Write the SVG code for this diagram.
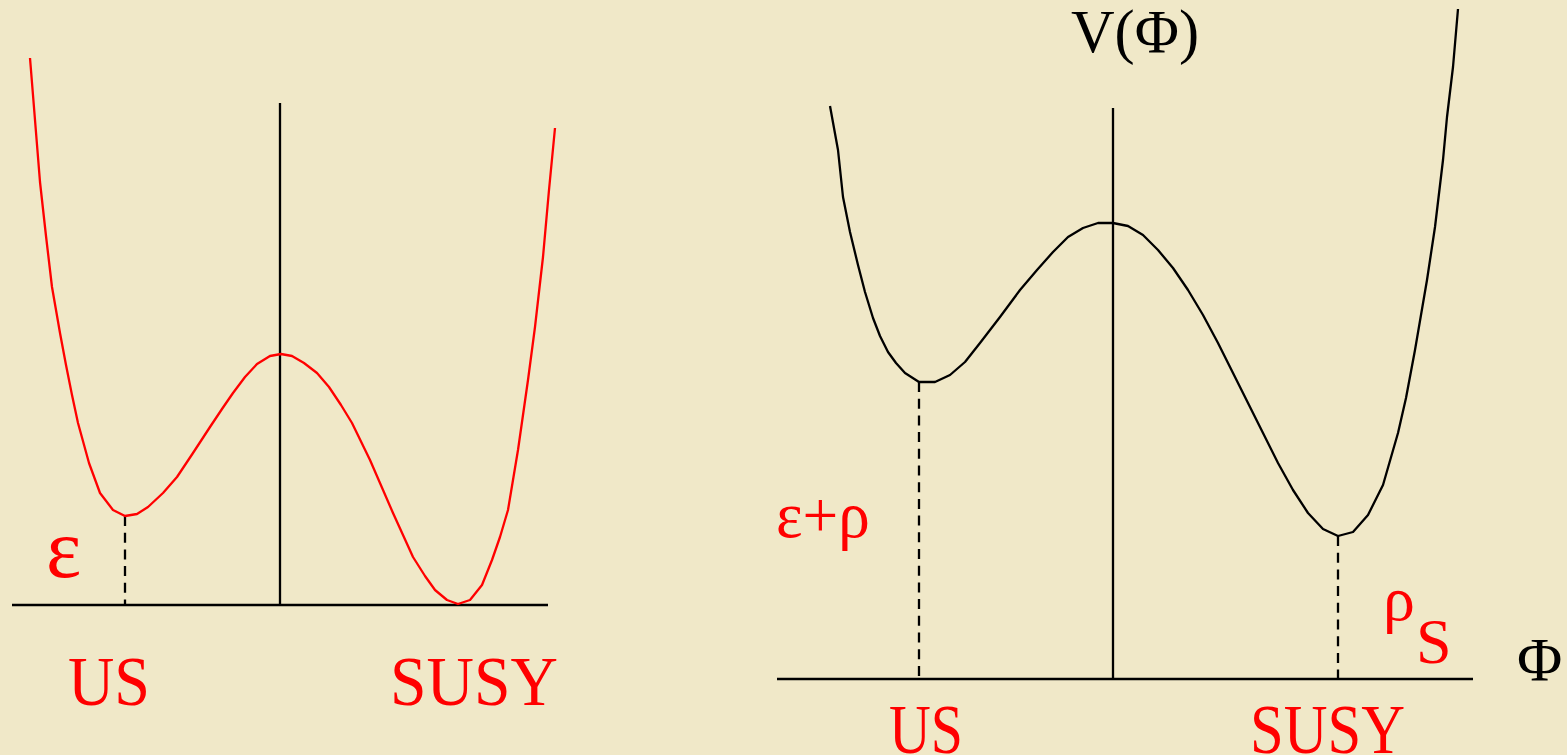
<svg xmlns="http://www.w3.org/2000/svg" width="1567" height="755" viewBox="0 0 1567 755">
<style>
.ax{stroke:#000;stroke-width:2.3;fill:none}
.dash{stroke:#000;stroke-width:2.3;fill:none;stroke-dasharray:10 6.7}
.red{stroke:#FF0000;stroke-width:2.3;fill:none;stroke-linejoin:round}
.blk{stroke:#000;stroke-width:2.3;fill:none;stroke-linejoin:round}
.lr{font-family:"Liberation Serif","Times New Roman",serif;fill:#FF0000}
.lb{font-family:"Liberation Serif","Times New Roman",serif;fill:#000}
</style>
<rect width="1567" height="755" fill="#F0E8C8"/>
<g id="left-plot">
<line class="ax" x1="12" y1="605" x2="548" y2="605"/>
<line class="ax" x1="280" y1="103" x2="280" y2="605"/>
<line class="dash" x1="125" y1="516" x2="125" y2="605"/>
<polyline class="red" points="30,58 35,120 40,182 46,236 52,287 60,333 66,365 72,395 78,423 89,463 100,493 113,510 125,516 137,514 148,507 163,493 177,477 193,453 210,427 222,409 233,393 245,377 257,364 270,356 281,354 292,356 304,363 317,373 329,387 341,405 352,423 370,460 393,513 413,557 425,576 435,590 447,600 458,604 470,600 482,585 492,560 500,537 508,510 518,450 528,380 535,327 543,257 549,190 555,128"/>
<text class="lr" x="46" y="577" font-size="84">ε</text>
<text class="lr" x="68" y="705" font-size="70" textLength="82" lengthAdjust="spacingAndGlyphs">US</text>
<text class="lr" x="390" y="705" font-size="70" textLength="168" lengthAdjust="spacingAndGlyphs">SUSY</text>
</g>
<g id="right-plot">
<line class="ax" x1="777" y1="679" x2="1473" y2="679"/>
<line class="ax" x1="1113" y1="108" x2="1113" y2="679"/>
<line class="dash" x1="919" y1="382" x2="919" y2="679"/>
<line class="dash" x1="1338" y1="536" x2="1338" y2="679"/>
<polyline class="blk" points="830,106 838,150 843,197 850,232 858,265 865,292 873,318 880,336 888,352 896,363 905,373 919,382 935,382 950,375 965,362 980,343 1000,317 1020,290 1037,270 1053,252 1068,237 1083,228 1098,223 1113,223 1128,226 1143,235 1158,250 1173,268 1188,290 1203,315 1218,343 1233,373 1248,403 1263,433 1278,463 1293,490 1308,513 1323,529 1338,536 1353,532 1368,515 1383,485 1398,433 1406,398 1415,350 1427,280 1435,227 1443,160 1447,117 1453,67 1458,9"/>
<text class="lb" x="1071" y="52" font-size="62" textLength="128" lengthAdjust="spacingAndGlyphs">V(Φ)</text>
<text class="lb" x="1517" y="680" font-size="62">Φ</text>
<text class="lr" x="776" y="537" font-size="66" textLength="94" lengthAdjust="spacingAndGlyphs">ε+ρ</text>
<text class="lr" x="1383" y="620" font-size="64">ρ</text>
<text class="lr" x="1416" y="663" font-size="64">S</text>
<text class="lr" x="889" y="753" font-size="70" textLength="74" lengthAdjust="spacingAndGlyphs">US</text>
<text class="lr" x="1250" y="753" font-size="70" textLength="155" lengthAdjust="spacingAndGlyphs">SUSY</text>
</g>
</svg>
